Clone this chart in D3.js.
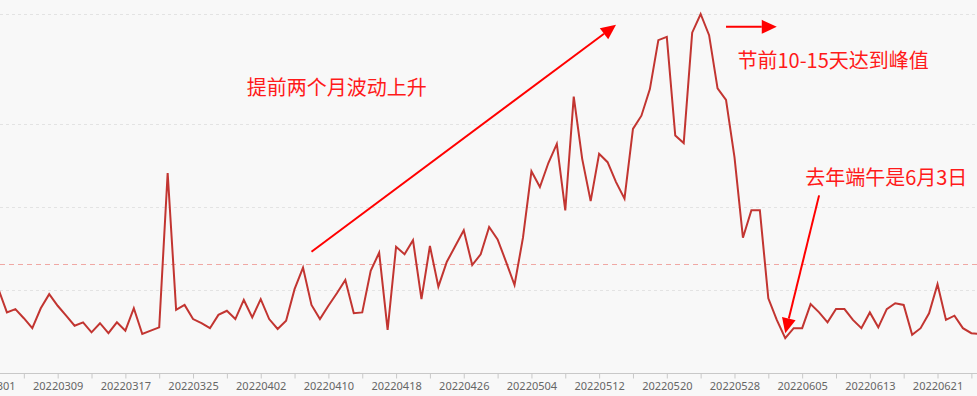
<!DOCTYPE html>
<html>
<head>
<meta charset="utf-8">
<script src="https://cdn.jsdelivr.net/npm/d3@7/dist/d3.min.js"></script>
<style>
  html, body { margin: 0; padding: 0; background: #f8f8f8; }
  svg { display: block; }
</style>
</head>
<body>
<script>
// ---- data ----
const startDate = "2022-03-01";
const endDate = "2022-06-27"; // exclusive
const values = [
  88, 101, 73, 77, 66, 54, 78, 95, 81, 69,
  57, 61, 49, 60, 48, 61, 51, 78, 47, 51,
  55, 241, 76, 82, 65, 60, 54, 70, 75, 65,
  88, 67, 89, 65, 53, 63, 101, 127, 82, 65,
  81, 96, 112, 72, 73, 123, 145, 52, 152, 143,
  160, 89, 153, 104, 134, 153, 172, 130, 143, 176,
  161, 134, 106, 163, 243, 224, 253, 276, 196, 333,
  258, 207, 264, 254, 230, 210, 294, 310, 342, 401,
  405, 286, 277, 410, 432.5, 407, 343, 329, 260, 163,
  196, 196, 90, 64, 42, 54, 54, 83, 73, 61,
  77, 77, 64, 54, 73, 55, 77, 84, 82, 46,
  54, 72, 107, 64, 69, 54, 48, 47
];
const tickLabels = ["20220301","20220309","20220317","20220325","20220402","20220410",
  "20220418","20220426","20220504","20220512","20220520","20220528","20220605",
  "20220613","20220621"];
const gridValues = [100, 200, 300];
const markLineValue = 131;
const notes = [
  { text: "提前两个月波动上升", date: "20220331", value: 335 },
  { text: "节前10-15天达到峰值", date: "20220528", value: 367 },
  { text: "去年端午是6月3日", date: "20220605", value: 226 }
];
// arrows: [fromDate, fromValue, toDate, toValue]
const arrows = [
  ["20220408", 146, "20220514", 419.5],
  ["20220527", 417, "20220602", 417],
  ["20220607", 214, "20220603", 48]
];

// ---- layout ----
const W = 977, H = 396;
const fmt = d3.timeFormat("%Y%m%d");
const dates = d3.timeDay.range(new Date(startDate + "T00:00:00"), new Date(endDate + "T00:00:00")).map(fmt);

const x = d3.scalePoint().domain(dates).range([-10, -10 + 8.46 * (dates.length - 1)]);
const yMax = d3.max(values);
const y = d3.scaleLinear().domain([0, yMax]).range([373, 14]);
const xd = d => x(d);

const svg = d3.select("body").append("svg").attr("width", W).attr("height", H);
svg.append("rect").attr("width", W).attr("height", H).attr("fill", "#f8f8f8");

// grid lines
const grid = svg.append("g");
grid.selectAll("line").data(gridValues.concat([yMax])).join("line")
  .attr("x1", 0).attr("x2", W)
  .attr("y1", d => Math.round(y(d)) + 0.5).attr("y2", d => Math.round(y(d)) + 0.5)
  .attr("stroke", "#e3e3e3").attr("stroke-width", 1).attr("stroke-dasharray", "3,3");

// mark line
svg.append("line")
  .attr("x1", 0).attr("x2", W)
  .attr("y1", Math.round(y(markLineValue)) + 0.5).attr("y2", Math.round(y(markLineValue)) + 0.5)
  .attr("stroke", "#f0a8a4").attr("stroke-width", 1).attr("stroke-dasharray", "5,4");

// x axis
const tickDates = dates.filter((d, i) => i % 4 === 0);
const xAxis = d3.axisBottom(x)
  .tickValues(tickDates)
  .tickSize(5)
  .tickFormat(d => tickLabels.includes(d) ? d : "");
const ax = svg.append("g").attr("transform", "translate(0,373)").call(xAxis);
ax.select(".domain").attr("stroke", "#c8c8c8").attr("d", "M0,0.5H" + W);
ax.selectAll(".tick line").attr("stroke", "#c8c8c8").attr("transform", "translate(0,0.5)");
ax.selectAll(".tick text")
  .attr("fill", "#666").attr("y", 9).attr("dy", "0.71em")
  .style("font-family", "'Noto Sans', 'Microsoft YaHei', sans-serif").style("font-size", "11px");

// series line
const line = d3.line().x((d, i) => x(dates[i])).y(d => y(d));
svg.append("path").datum(values)
  .attr("d", line)
  .attr("fill", "none").attr("stroke", "#c23531").attr("stroke-width", 2)
  .attr("stroke-linejoin", "miter");

// arrows
function arrow(x1, y1, x2, y2, headLen, headHalf) {
  const ang = Math.atan2(y2 - y1, x2 - x1);
  const bx = x2 - headLen * Math.cos(ang), by = y2 - headLen * Math.sin(ang);
  svg.append("line").attr("x1", x1).attr("y1", y1).attr("x2", bx).attr("y2", by)
    .attr("stroke", "#ff0000").attr("stroke-width", 2);
  const px = -Math.sin(ang) * headHalf, py = Math.cos(ang) * headHalf;
  svg.append("path")
    .attr("d", `M${x2},${y2}L${bx + px},${by + py}L${bx - px},${by - py}Z`)
    .attr("fill", "#ff0000");
}
arrows.forEach(a => {
  arrow(xd(a[0]), y(a[1]), xd(a[2]), y(a[3]), 15, 7);
});

// notes
svg.selectAll("text.note").data(notes).join("text")
  .attr("class", "note")
  .attr("x", d => xd(d.date) + 3)
  .attr("y", d => y(d.value))
  .attr("fill", "#ff1a1a")
  .style("font-family", "'Noto Sans CJK SC', sans-serif")
  .style("font-size", "20px")
  .text(d => d.text);
</script>
</body>
</html>
